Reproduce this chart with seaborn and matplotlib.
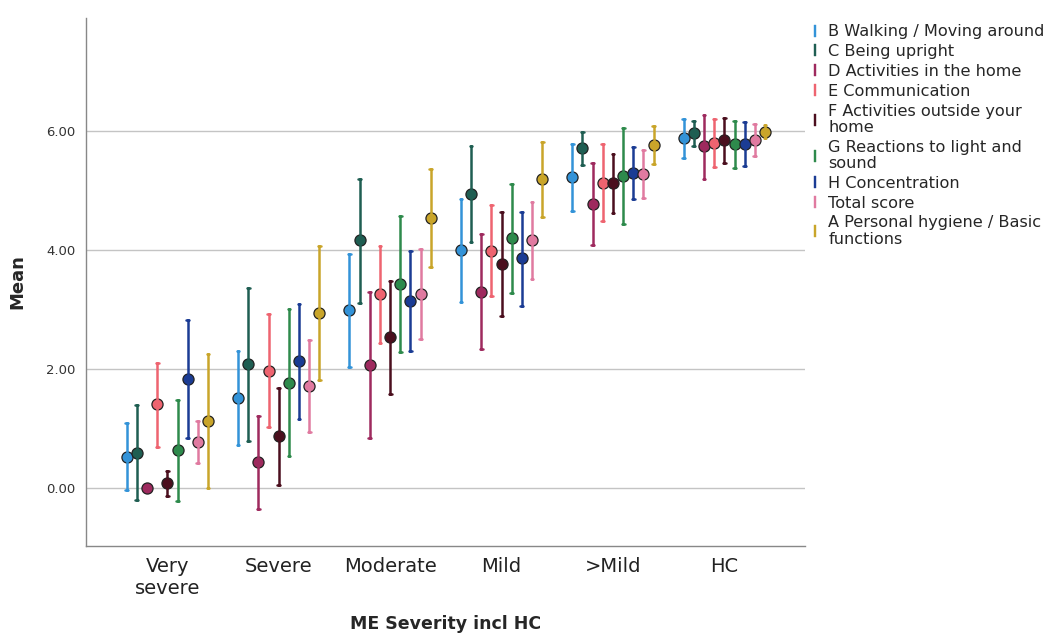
import numpy as np
import pandas as pd
import matplotlib
matplotlib.use("Agg")
import matplotlib.pyplot as plt
import seaborn as sns
from matplotlib.lines import Line2D

categories = ["Very\nsevere", "Severe", "Moderate", "Mild", ">Mild", "HC"]
series = ["B Walking / Moving around", "C Being upright", "D Activities in the home",
          "E Communication", "F Activities outside your\nhome",
          "G Reactions to light and\nsound", "H Concentration", "Total score",
          "A Personal hygiene / Basic\nfunctions"]
colors = ["#3393d8", "#1f5e52", "#9e2a5e", "#ee6470", "#4b0f1e",
          "#2e8a4c", "#1b3c94", "#e07aa0", "#c9a52a"]

# means per series per category
means = {
    "B": [0.53, 1.52, 2.99, 4.00, 5.22, 5.88],
    "C": [0.59, 2.08, 4.17, 4.94, 5.71, 5.96],
    "D": [0.00, 0.44, 2.07, 3.30, 4.77, 5.74],
    "E": [1.41, 1.97, 3.26, 3.99, 5.13, 5.80],
    "F": [0.08, 0.87, 2.54, 3.76, 5.12, 5.84],
    "G": [0.64, 1.77, 3.43, 4.20, 5.24, 5.78],
    "H": [1.84, 2.13, 3.14, 3.86, 5.29, 5.78],
    "T": [0.78, 1.71, 3.26, 4.16, 5.28, 5.85],
    "A": [1.13, 2.94, 4.53, 5.19, 5.76, 5.99],
}
lower = {
    "B": [-0.03, 0.72, 2.03, 3.13, 4.66, 5.54],
    "C": [-0.20, 0.79, 3.11, 4.14, 5.43, 5.75],
    "D": [-0.02, -0.35, 0.85, 2.34, 4.08, 5.20],
    "E": [0.69, 1.02, 2.44, 3.23, 4.49, 5.40],
    "F": [-0.13, 0.06, 1.59, 2.89, 4.63, 5.47],
    "G": [-0.21, 0.54, 2.29, 3.28, 4.44, 5.38],
    "H": [0.85, 1.16, 2.30, 3.06, 4.86, 5.41],
    "T": [0.43, 0.94, 2.50, 3.51, 4.87, 5.58],
    "A": [0.00, 1.82, 3.71, 4.56, 5.44, 5.88],
}
upper = {
    "B": [1.09, 2.31, 3.93, 4.85, 5.78, 6.20],
    "C": [1.39, 3.37, 5.20, 5.75, 5.99, 6.16],
    "D": [0.02, 1.22, 3.30, 4.27, 5.46, 6.26],
    "E": [2.11, 2.92, 4.07, 4.76, 5.78, 6.20],
    "F": [0.29, 1.69, 3.48, 4.64, 5.61, 6.21],
    "G": [1.48, 3.01, 4.57, 5.11, 6.05, 6.17],
    "H": [2.82, 3.09, 3.99, 4.64, 5.73, 6.15],
    "T": [1.13, 2.49, 4.02, 4.81, 5.68, 6.11],
    "A": [2.25, 4.07, 5.36, 5.82, 6.08, 6.10],
}
keys = ["B", "C", "D", "E", "F", "G", "H", "T", "A"]

rows = []
for key, name in zip(keys, series):
    for i, cat in enumerate(categories):
        for v in (lower[key][i], means[key][i], upper[key][i]):
            rows.append({"cat": cat, "series": name, "value": v})
df = pd.DataFrame(rows)

sns.set_style("white")
plt.rcParams["font.family"] = ["DejaVu Sans"]

fig = plt.figure(figsize=(10.49, 6.37), dpi=100)
ax = fig.add_axes([0.082, 0.143, 0.685, 0.829])

sns.pointplot(data=df, x="cat", y="value", hue="series", order=categories,
              hue_order=series, palette=colors, estimator=np.median,
              errorbar=lambda x: (np.min(x), np.max(x)), dodge=0.73,
              linestyle="none", markers="o", markersize=8,
              markeredgecolor="#222222", markeredgewidth=0.9,
              capsize=0.025, err_kws={"linewidth": 1.8}, legend=False, ax=ax)

ax.set_ylim(-0.97, 7.9)
ax.set_xlim(-0.73, 5.72)
ax.set_yticks([0, 2, 4, 6])
ax.set_yticklabels(["0.00", "2.00", "4.00", "6.00"], fontsize=9.5, color="#333333")
ax.tick_params(axis="x", labelsize=14, colors="#222222", length=0, pad=8)
ax.tick_params(axis="y", length=4, color="#888888", direction="out")
ax.yaxis.grid(True, color="#c4c4c4", linewidth=1)
ax.set_axisbelow(True)
for s in ["top", "right"]:
    ax.spines[s].set_visible(False)
for s in ["left", "bottom"]:
    ax.spines[s].set_color("#888888")
    ax.spines[s].set_linewidth(1.0)

ax.set_ylabel("Mean", fontsize=13, fontweight="bold", labelpad=14)
ax.set_xlabel("ME Severity incl HC", fontsize=12.5, fontweight="bold", labelpad=12)

handles = [Line2D([], [], linestyle="none", marker=r"$\mathrm{I}$", markersize=9,
                  color=c, markeredgewidth=0.3) for c in colors]
leg = fig.legend(handles, series, loc="upper left", bbox_to_anchor=(0.765, 0.972),
                 frameon=False, fontsize=11.6, handlelength=0.8, handletextpad=0.4,
                 labelspacing=0.3, borderaxespad=0)
for t in leg.get_texts():
    t.set_linespacing(1.1)

fig.savefig("out.png", dpi=100)
